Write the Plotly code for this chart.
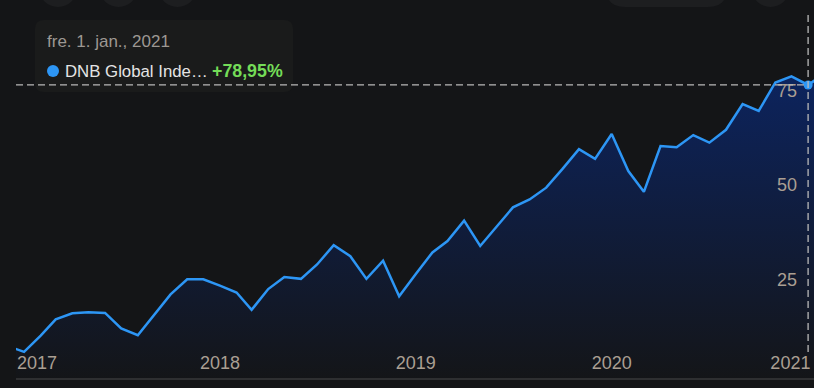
import plotly.graph_objects as go

# ---------------- data ----------------
dates = [
    "2016-12-01",
    "2017-01-01", "2017-02-01", "2017-03-01", "2017-04-01", "2017-05-01", "2017-06-01",
    "2017-07-01", "2017-08-01", "2017-09-01", "2017-10-01", "2017-11-01", "2017-12-01",
    "2018-01-01", "2018-02-01", "2018-03-01", "2018-04-01", "2018-05-01", "2018-06-01",
    "2018-07-01", "2018-08-01", "2018-09-01", "2018-10-01", "2018-11-01", "2018-12-01",
    "2019-01-01", "2019-02-01", "2019-03-01", "2019-04-01", "2019-05-01", "2019-06-01",
    "2019-07-01", "2019-08-01", "2019-09-01", "2019-10-01", "2019-11-01", "2019-12-01",
    "2020-01-01", "2020-02-01", "2020-03-01", "2020-04-01", "2020-05-01", "2020-06-01",
    "2020-07-01", "2020-08-01", "2020-09-01", "2020-10-01", "2020-11-01", "2020-12-01",
    "2021-01-01", "2021-02-01",
]
values = [
    10.0,
    8.4, 12.7, 17.0, 18.6, 18.9, 18.7,
    14.6, 12.8, 18.2, 23.6, 27.6, 27.6,
    25.9, 24.1, 19.5, 25.0, 28.2, 27.7,
    31.5, 36.6, 33.7, 27.7, 32.5, 23.1,
    29.0, 34.7, 37.7, 43.1, 36.4, 41.7,
    46.6, 48.7, 51.8, 56.7, 62.0, 59.4,
    66.0, 56.2, 50.7, 62.8, 62.5, 65.7,
    63.7, 67.1, 73.9, 72.1, 79.6, 81.2,
    78.95, 82.0,
]
hover_index = 49  # 1 Jan 2021
series_name = "DNB Global Inde…"
hover_date_text = "fre. 1. jan., 2021"
hover_value_text = "+78,95%"

x_tick_labels = ["2017", "2018", "2019", "2020", "2021"]
y_tick_values = [25, 50, 75]

# ---------------- styling / layout ----------------
BG = "#141517"
BLUE = "#2d96f5"
TICK_COLOR = "#aa9f93"
FONT = "Liberation Sans, Arial, sans-serif"
W, H = 814, 388
ML, MR, MT, MB = 16, 0, 14, 10
PX0, PX1, PY0, PY1 = ML, W - MR, MT, H - MB  # plot area in pixels

x_range = ["2016-12-17", "2021-01-12"]
y_range = [1.5, 97.7]
# label anchors (edge labels are nudged inwards as in the reference)
x_tick_positions = ["2017-01-25", "2018-01-01", "2019-01-01", "2020-01-01", "2020-11-29"]


def px(x):
    return (x - PX0) / (PX1 - PX0)


def py(y):
    return (PY1 - y) / (PY1 - PY0)


def rounded_rect(x0, y0, x1, y1, r):
    """rounded rectangle path in paper coords from pixel coords"""
    pts = [
        ("M", (x0 + r, y0)),
        ("L", (x1 - r, y0)),
        ("Q", (x1, y0), (x1, y0 + r)),
        ("L", (x1, y1 - r)),
        ("Q", (x1, y1), (x1 - r, y1)),
        ("L", (x0 + r, y1)),
        ("Q", (x0, y1), (x0, y1 - r)),
        ("L", (x0, y0 + r)),
        ("Q", (x0, y0), (x0 + r, y0)),
    ]
    s = ""
    for cmd, *ps in pts:
        s += cmd + " " + " ".join(f"{px(a):.5f},{py(b):.5f}" for a, b in ps) + " "
    return s + "Z"


fig = go.Figure()

fig.add_trace(go.Scatter(
    x=dates, y=values, mode="lines",
    line=dict(color=BLUE, width=2.5),
    fill="tozeroy",
    fillgradient=dict(type="vertical", start=0, stop=84,
                      colorscale=[[0, "rgb(20,21,23)"], [1, "rgb(12,36,96)"]]),
    hoverinfo="skip", showlegend=False,
))
fig.add_trace(go.Scatter(
    x=[dates[hover_index]], y=[values[hover_index]], mode="markers",
    marker=dict(color=BLUE, size=9, line=dict(color=BLUE, width=0)),
    hoverinfo="skip", showlegend=False, cliponaxis=False,
))

shapes = []
# partially visible top buttons
for cx in (58, 118.5, 177.5, 770.5):
    shapes.append(dict(type="circle", xref="paper", yref="paper",
                       x0=px(cx - 19), x1=px(cx + 19), y0=py(7), y1=py(-31),
                       fillcolor="#1d1e20", line=dict(width=0), layer="above"))
shapes.append(dict(type="path", xref="paper", yref="paper",
                   path=rounded_rect(606, -31, 727, 7, 19),
                   fillcolor="#1d1e20", line=dict(width=0), layer="above"))
# tooltip box
shapes.append(dict(type="path", xref="paper", yref="paper",
                   path=rounded_rect(35, 20, 293, 92, 9),
                   fillcolor="#1a1b1b", line=dict(width=0), layer="above"))
# crosshair
shapes.append(dict(type="line", xref="x", yref="y",
                   x0=x_range[0], x1=dates[hover_index],
                   y0=values[hover_index], y1=values[hover_index],
                   line=dict(color="#b8b8b8", width=1.3, dash="7px,4px"), layer="above"))
shapes.append(dict(type="line", xref="x", yref="paper",
                   x0=dates[hover_index], x1=dates[hover_index],
                   y0=py(352), y1=1,
                   line=dict(color="#b8b8b8", width=1.3, dash="7px,4px"), layer="above"))
# tooltip dot
shapes.append(dict(type="circle", xref="paper", yref="paper",
                   x0=px(47), x1=px(59), y0=py(77), y1=py(65),
                   fillcolor=BLUE, line=dict(width=0), layer="above"))

annotations = [
    dict(text=hover_date_text, xref="paper", yref="paper", x=px(45), y=py(41.5),
         xanchor="left", yanchor="middle", showarrow=False,
         font=dict(family=FONT, size=17, color="#9d9893")),
    dict(text=series_name, xref="paper", yref="paper", x=px(62.5), y=py(71),
         xanchor="left", yanchor="middle", showarrow=False,
         font=dict(family=FONT, size=16.8, color="#e4e4e4")),
    dict(text="<b>" + hover_value_text + "</b>", xref="paper", yref="paper", x=px(209.5), y=py(71),
         xanchor="left", yanchor="middle", showarrow=False,
         font=dict(family=FONT, size=17.8, color="#74dc58")),
]

fig.update_layout(
    width=W, height=H,
    margin=dict(l=ML, r=MR, t=MT, b=MB, pad=0),
    paper_bgcolor=BG, plot_bgcolor=BG,
    hovermode=False,
    shapes=shapes, annotations=annotations,
    xaxis=dict(
        type="date", range=x_range,
        tickvals=x_tick_positions, ticktext=x_tick_labels,
        ticklabelposition="inside", ticks="",
        ticklabeloverflow="allow",
        ticklabelstandoff=6,
        showgrid=False, zeroline=False,
        showline=True, linecolor="#2e2f31", linewidth=1.5,
        tickfont=dict(family=FONT, size=18, color=TICK_COLOR),
        fixedrange=True,
    ),
    yaxis=dict(
        range=y_range, side="right",
        tickvals=y_tick_values, ticktext=[str(v) for v in y_tick_values],
        ticklabelposition="inside top", ticks="",
        ticklabelstandoff=14,
        ticklabelshift=3,
        ticklabeloverflow="allow",
        showgrid=False, zeroline=False, showline=False,
        tickfont=dict(family=FONT, size=18, color=TICK_COLOR),
        fixedrange=True,
    ),
)

fig.write_html(
    "out.html",
    config={"displayModeBar": False},
    post_script="document.body.style.margin='0';document.body.style.background='" + BG + "';",
)
